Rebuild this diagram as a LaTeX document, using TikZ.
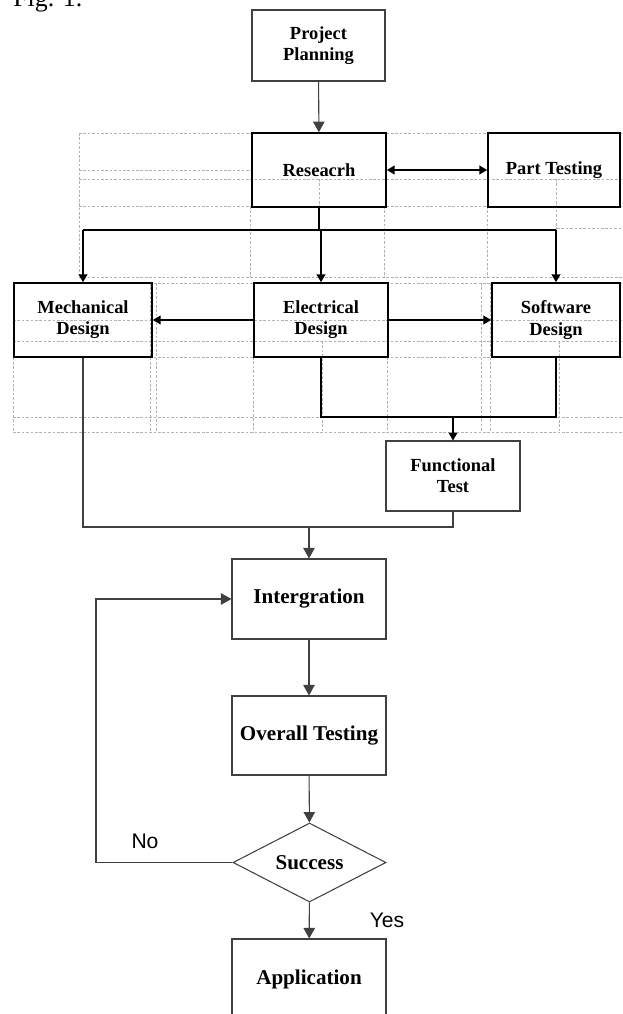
\documentclass[tikz,border=0pt]{standalone}
\usepackage{fontspec}
\setmainfont{Liberation Serif}
\newfontfamily\arialfont{Liberation Sans}
\usetikzlibrary{arrows.meta,shapes.geometric}

\begin{document}
\begin{tikzpicture}[x=0.02cm,y=-0.02cm,
  tabline/.style={black!30,dash pattern=on 1.5pt off 1pt,line width=0.4pt},
  box/.style={draw=black!75,line width=0.6pt,inner sep=1pt,align=center,font=\fontsize{10.5}{12}\selectfont\bfseries},
  heavybox/.style={box,draw=black,line width=0.9pt,minimum height=1.48cm},
  lowbox/.style={box,minimum width=3.08cm,minimum height=1.6cm,font=\fontsize{12}{14}\selectfont\bfseries},
  upflow/.style={line width=0.9pt,>={Triangle[length=4.5pt,width=5pt]}},
  lowflow/.style={black!75,line width=0.6pt,>={Triangle[length=6pt,width=6.5pt]}},
  tag/.style={inner sep=0,font=\arialfont\fontsize{12}{14}\selectfont}]
\useasboundingbox (0,0) rectangle (622,1014);

\foreach \y in {133,179,206,277} \draw[tabline] (79,\y) -- (622,\y);
\draw[tabline] (79,170) -- (252,170);
\draw[tabline] (557,228) -- (622,228);
\draw[tabline] (79,133) -- (79,277);
\foreach \x in {250,384,487} \draw[tabline] (\x,206) -- (\x,277);
\draw[tabline] (319,179) -- (319,206);
\draw[tabline] (556,179) -- (556,277);
\foreach \y in {283,320,341,357,417,432} \draw[tabline] (13,\y) -- (622,\y);
\foreach \x in {13,150,156,481,490} \draw[tabline] (\x,283) -- (\x,432);
\foreach \x in {253,387} \draw[tabline] (\x,357) -- (\x,432);
\foreach \x in {322,559} \draw[tabline] (\x,341) -- (\x,432);

\node[anchor=base west,inner sep=0,font=\fontsize{14.7}{16}\selectfont] (fig) at (13,7) {Fig. 1.};

\node[box,minimum width=2.66cm,minimum height=1.42cm] (plan) at (318.5,45.5) {Project\\Planning};
\node[heavybox,minimum width=2.68cm] (res) at (319,170) {Reseacrh};
\node[heavybox,minimum width=2.64cm] (part) at (554,170) {Part Testing};
\node[heavybox,minimum width=2.76cm] (mech) at (83,320) {Mechanical\\Design};
\node[heavybox,minimum width=2.68cm] (elec) at (321,320) {Electrical\\Design};
\node[heavybox,minimum width=2.56cm] (soft) at (556,320) {Software\\Design};
\node[box,minimum width=2.68cm,minimum height=1.4cm] (func) at (453,476) {Functional\\Test};

\node[lowbox] (integ) at (309,599) {Intergration};
\node[lowbox,minimum height=1.58cm] (over) at (309,735.5) {Overall Testing};
\node[box,diamond,aspect=1.94,minimum width=3.06cm,minimum height=1.58cm,inner sep=0,font=\fontsize{12}{14}\selectfont\bfseries] (succ) at (309.5,862.5) {Success};
\node[lowbox] (app) at (309,979) {Application};

\draw[lowflow,->] (plan) -- (res);
\draw[upflow,<->] (res) -- (part);
\path (res.south) ++(0,22) coordinate (fork);
\draw[upflow] (res.south) -- (fork);
\draw[upflow] (mech.north |- fork) -- (soft.north |- fork);
\draw[upflow,->] (mech.north |- fork) -- (mech.north);
\draw[upflow,->] (elec.north |- fork) -- (elec.north);
\draw[upflow,->] (soft.north |- fork) -- (soft.north);
\draw[upflow,->] (elec) -- (mech);
\draw[upflow,->] (elec) -- (soft);
\coordinate (collect) at (453,417);
\draw[upflow] (elec.south) |- (collect) -| (soft.south);
\draw[upflow,->] (collect) -- (func);

\coordinate (merge) at (309,527);
\draw[lowflow] (mech.south) |- (merge) -| (func.south);
\draw[lowflow,->] (merge) -- (integ);
\draw[lowflow,->] (integ) -- (over);
\draw[lowflow,->] (over) -- (succ);
\draw[lowflow,->] (succ) -- (app);
\coordinate (back) at (96,862.5);
\draw[lowflow,->] (succ.west) -- (back) |- (integ.west);
\node[tag] (no) at (145,841) {No};
\node[tag] (yes) at (387,920) {Yes};
\end{tikzpicture}
\end{document}
